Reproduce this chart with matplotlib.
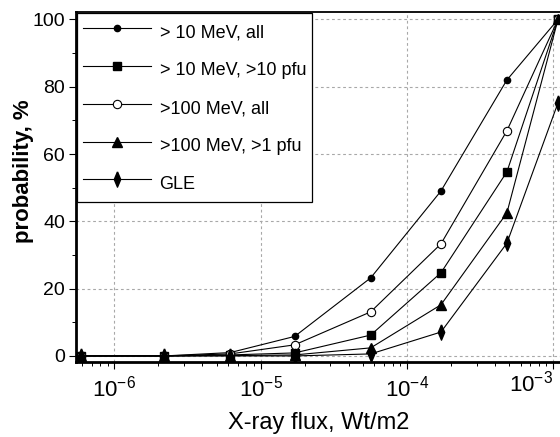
import matplotlib
matplotlib.use('Agg')
import matplotlib.pyplot as plt
from matplotlib.ticker import LogLocator, NullFormatter, MultipleLocator

plt.rcParams['font.family'] = ['Liberation Sans', 'DejaVu Sans']
plt.rcParams['mathtext.fontset'] = 'custom'
plt.rcParams['mathtext.rm'] = 'Liberation Sans'
plt.rcParams['mathtext.it'] = 'Liberation Sans:italic'
plt.rcParams['mathtext.bf'] = 'Liberation Sans:bold'

# X-ray flux bins, Wt/m2
flux = [5.9e-7, 2.19e-6, 6.2e-6, 1.71e-5, 5.66e-5, 1.71e-4, 4.83e-4, 1.08e-3]

p10_all = [0, 0, 1.0, 5.8, 23.2, 49.0, 82.0, 100]
p10_10pfu = [0, 0, 0.3, 0.9, 6.2, 24.7, 54.7, 100]
p100_all = [0, 0, 0.6, 3.3, 13.1, 33.3, 66.9, 100]
p100_1pfu = [0, 0, 0.1, 0.3, 2.4, 15.2, 42.5, 100]
gle = [0, 0, 0, 0, 0.6, 7.1, 33.5, 75.2]

labels = ['> 10 MeV, all', '> 10 MeV, >10 pfu', '>100 MeV, all',
          '>100 MeV, >1 pfu', 'GLE']

xticks = [1e-6, 1e-5, 1e-4, 1e-3]
xticklabels = [r'$\mathrm{10^{-6}}$', r'$\mathrm{10^{-5}}$',
               r'$\mathrm{10^{-4}}$', r'$\mathrm{10^{-3}}$']

diamond = [(0, 1), (0.42, 0), (0, -1), (-0.42, 0), (0, 1)]

fig = plt.figure(figsize=(5.6, 4.37), dpi=100)
ax = fig.add_axes([76 / 560, 1 - 362 / 437, 486 / 560, 350 / 437])

kw = dict(color='black', lw=0.8, mec='black')
ax.plot(flux, p10_all, marker='o', ms=4.5, mfc='black', label=labels[0], **kw)
ax.plot(flux, p10_10pfu, marker='s', ms=6, mfc='black', label=labels[1], **kw)
ax.plot(flux, p100_all, marker='o', ms=6, mfc='white', mew=0.8, label=labels[2], **kw)
ax.plot(flux, p100_1pfu, marker='^', ms=7.5, mfc='black', label=labels[3], **kw)
ax.plot(flux, gle, marker=diamond, ms=11, mfc='black', label=labels[4], **kw)

ax.set_xscale('log')
ax.set_xlim(5.47e-7, 1.15e-3)
ax.set_ylim(-1.8, 102.2)

ax.yaxis.set_major_locator(MultipleLocator(20))
ax.yaxis.set_minor_locator(MultipleLocator(10))
ax.xaxis.set_minor_locator(LogLocator(base=10, subs=range(2, 10), numticks=20))
ax.xaxis.set_minor_formatter(NullFormatter())
ax.set_xticks(xticks)
# the last label would run off the right edge, so it is placed by hand below
ax.set_xticklabels(xticklabels[:-1] + [''])
ax.annotate(xticklabels[-1], xy=(xticks[-1], 0), xycoords=ax.get_xaxis_transform(),
            xytext=(-22, -9), textcoords='offset pixels', ha='center', va='top',
            fontsize=16, annotation_clip=False)

ax.grid(True, which='major', ls=(0, (2.5, 2.5)), color='#a8a8a8', lw=0.8)
ax.set_axisbelow(True)

ax.tick_params(which='major', direction='out', length=5, width=0.8,
               labelsize=14, pad=3)
ax.tick_params(which='minor', direction='out', length=3, width=0.7)
ax.tick_params(axis='x', which='major', labelsize=16, pad=5)

for side in ['left', 'bottom']:
    ax.spines[side].set_linewidth(2)
ax.spines['top'].set_linewidth(1.3)
ax.spines['right'].set_visible(False)

ax.set_xlabel('X-ray flux, Wt/m2', fontsize=17, labelpad=7)
fig.text(24 / 560, 1 - 171 / 437, 'probability, %', fontsize=16,
         fontweight='bold', rotation=90, ha='center', va='center')

leg = ax.legend(loc='upper left', fontsize=13, handlelength=3.8,
                handleheight=1.8, handletextpad=0.45, labelspacing=0.68,
                borderpad=0.33, borderaxespad=0.05, fancybox=False,
                framealpha=1, edgecolor='black')
leg.get_frame().set_linewidth(0.9)

fig.savefig('out.png', dpi=100)
